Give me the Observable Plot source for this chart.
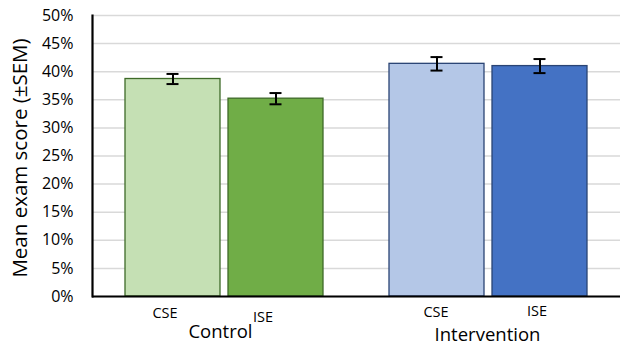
<!DOCTYPE html>
<html>
<head>
<meta charset="utf-8">
<script src="https://cdn.jsdelivr.net/npm/d3@7"></script>
<script src="https://cdn.jsdelivr.net/npm/@observablehq/plot@0.6"></script>
<style>
  html, body { margin: 0; padding: 0; background: #fff; }
  #chart svg { display: block; font-family: "Open Sans", sans-serif; }
</style>
</head>
<body>
<div id="chart"></div>
<script>
const groups = ["Control", "Control", "Intervention", "Intervention"];
const types = ["CSE", "ISE", "CSE", "ISE"];
const means = [38.7, 35.2, 41.4, 41.0];
const sems = [0.9, 1.0, 1.2, 1.25];
const fills = ["#c5e0b4", "#70ad47", "#b4c7e7", "#4472c4"];
const strokes = ["#3e6a28", "#3e6a28", "#2a4474", "#2a4474"];
const yTicks = [0, 5, 10, 15, 20, 25, 30, 35, 40, 45, 50];
const yTitle = "Mean exam score (±SEM)";

const data = groups.map((g, i) => ({
  group: g, type: types[i], mean: means[i], sem: sems[i], fill: fills[i], stroke: strokes[i]
}));

const label = (g, t, dx, dy) => Plot.text(data.filter(d => d.group === g && d.type === t), {
  fx: "group", x: "type", text: "type", frameAnchor: "bottom", lineAnchor: "bottom",
  textAnchor: "middle", dx, dy, fontSize: 14.5, fill: "#000"
});

const groupLabel = (g, dx, dy) => Plot.text(data.filter(d => d.group === g && d.type === "CSE"), {
  fx: "group", text: "group", frameAnchor: "bottom", lineAnchor: "bottom",
  textAnchor: "middle", dx, dy, fontSize: 18.5, fill: "#000"
});

const chart = Plot.plot({
  width: 620,
  height: 345,
  marginTop: 15,
  marginBottom: 49,
  marginLeft: 92,
  marginRight: 0,
  fx: { domain: ["Control", "Intervention"], padding: 0, axis: null },
  x: { domain: ["CSE", "ISE"], paddingInner: 0.08, paddingOuter: 0.318, axis: null },
  y: { domain: [0, 50], axis: null },
  color: { type: "identity" },
  marks: [
    Plot.gridY(yTicks, { stroke: "#d9d9d9", strokeOpacity: 1, strokeWidth: 1.5 }),
    Plot.axisY(yTicks, {
      tickSize: 0, tickPadding: 19, tickFormat: d => d + "%", fontSize: 16,
      label: null, fill: "#000", facetAnchor: "left"
    }),
    Plot.barY(data, {
      fx: "group", x: "type", y: "mean", fill: "fill", stroke: "stroke", strokeWidth: 1.3
    }),
    Plot.ruleX(data, {
      fx: "group", x: "type", y1: d => d.mean - d.sem, y2: d => d.mean + d.sem,
      stroke: "#000", strokeWidth: 2
    }),
    Plot.tickY(data, {
      fx: "group", x: "type", y: d => d.mean - d.sem, stroke: "#000", strokeWidth: 2,
      insetLeft: 41.5, insetRight: 41.5
    }),
    Plot.tickY(data, {
      fx: "group", x: "type", y: d => d.mean + d.sem, stroke: "#000", strokeWidth: 2,
      insetLeft: 41.5, insetRight: 41.5
    }),
    Plot.ruleY([0], { stroke: "#000", strokeWidth: 2.2 }),
    Plot.frame({ anchor: "left", stroke: "#000", strokeWidth: 2.2, facetAnchor: "left" }),
    label("Control", "CSE", -8, 21),
    label("Control", "ISE", -13, 25),
    label("Intervention", "CSE", -1, 20),
    label("Intervention", "ISE", -3, 19),
    groupLabel("Control", -4, 41),
    groupLabel("Intervention", -1, 44),
    Plot.text([yTitle], {
      text: d => d, frameAnchor: "left", textAnchor: "middle", rotate: -90, dx: -72, dy: 2,
      fontSize: 20.5, fill: "#000", facetAnchor: "left"
    })
  ]
});

document.getElementById("chart").appendChild(chart);
</script>
</body>
</html>
